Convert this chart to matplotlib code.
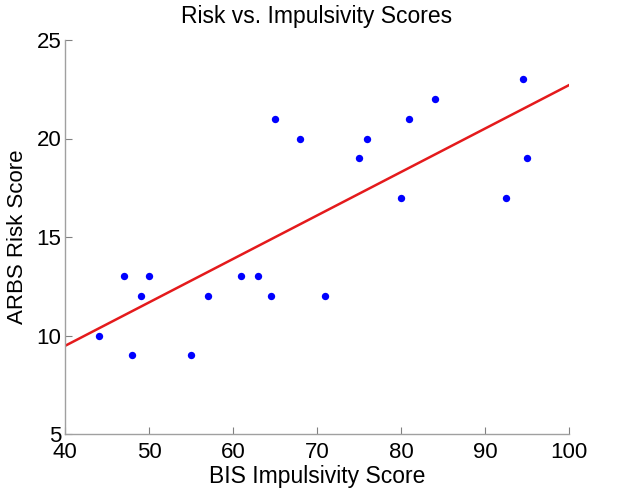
import numpy as np
import matplotlib
matplotlib.use("Agg")
import matplotlib.pyplot as plt

# BIS impulsivity vs ARBS risk
bis = [44, 47, 48, 49, 50, 55, 57, 61, 63, 64.5, 65, 68, 71, 75, 76, 80, 81, 84, 92.5, 94.5, 95]
arbs = [10, 13, 9, 12, 13, 9, 12, 13, 13, 12, 21, 20, 12, 19, 20, 17, 21, 22, 17, 23, 19]

x_ticks = [40, 50, 60, 70, 80, 90, 100]
y_ticks = [5, 10, 15, 20, 25]

plt.rcParams['font.family'] = ['Liberation Sans', 'DejaVu Sans']

fig = plt.figure(figsize=(6.3, 4.88), dpi=100)
# axes box: x 65..569 px, y 40..434 px
ax = fig.add_axes([65 / 630, 1 - 434 / 488, 504 / 630, 394 / 488])

ax.plot(bis, arbs, 'o', color='#0000ff', markersize=5.3, markeredgewidth=0)

# least squares fit line across the x range
slope, icpt = np.polyfit(bis, arbs, 1)
xl = np.array([x_ticks[0], x_ticks[-1]])
ax.plot(xl, slope * xl + icpt, '-', color='#e41a1c', linewidth=1.8)

ax.set_xlim(x_ticks[0], x_ticks[-1])
ax.set_ylim(y_ticks[0], y_ticks[-1])
ax.set_xticks(x_ticks)
ax.set_yticks(y_ticks)

for s in ['top', 'right']:
    ax.spines[s].set_visible(False)
for s in ['left', 'bottom']:
    ax.spines[s].set_color('#a0a0a0')
    ax.spines[s].set_linewidth(1.0)
ax.tick_params(direction='in', length=5, width=0.8, color='#808080', labelsize=16)
ax.tick_params(axis='x', pad=6)
ax.tick_params(axis='y', pad=2.5)

ax.set_title('Risk vs. Impulsivity Scores', fontsize=16.5, pad=12)
ax.set_xlabel('BIS Impulsivity Score', fontsize=16.5, labelpad=1)
ax.set_ylabel('ARBS Risk Score', fontsize=16, labelpad=6.5)

fig.savefig('out.png', dpi=100)
